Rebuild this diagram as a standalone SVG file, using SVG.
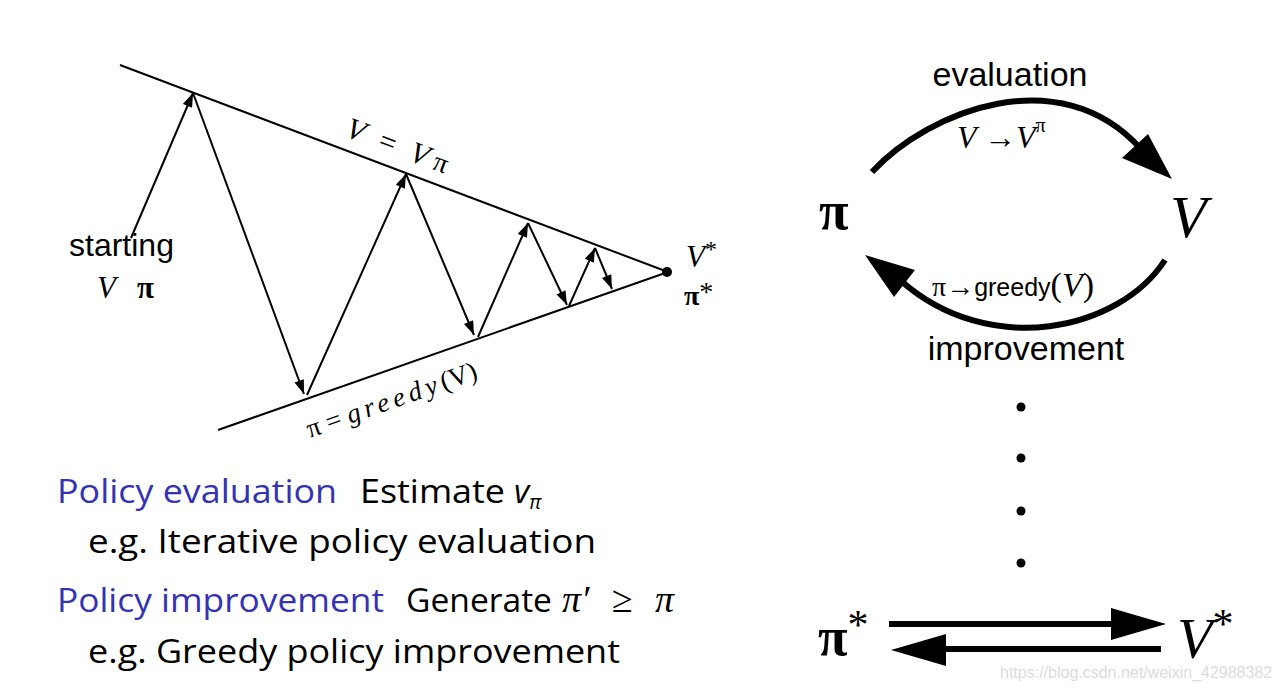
<svg xmlns="http://www.w3.org/2000/svg" width="1280" height="690" viewBox="0 0 1280 690">
<defs>
<style>
.ln{stroke:#000;stroke-width:2;fill:none}
.ar{stroke:#000;stroke-width:2;fill:none;marker-end:url(#ah)}
.thick{stroke:#000;stroke-width:6;fill:none}
.sans{font-family:"Liberation Sans",Arial,sans-serif;fill:#000}
.serif{font-family:"Liberation Serif","Times New Roman",serif;fill:#000}
.it{font-style:italic}
.blue{fill:#3333b3}
.blk{fill:#000}
</style>
<marker id="ah" viewBox="0 0 14 10" refX="14" refY="5" markerWidth="15" markerHeight="10" markerUnits="userSpaceOnUse" orient="auto"><path d="M0,0 L14,5 L0,10 Z"/></marker>
</defs>
<rect width="1280" height="690" fill="#fff"/>

<g id="triangle">
<line class="ln" x1="120" y1="65" x2="668" y2="272"/>
<line class="ln" x1="218" y1="430" x2="668" y2="272"/>
<circle cx="667" cy="272" r="5" fill="#000"/>
</g>

<g id="zigzag-connectors">
<path class="ar" d="M131,238 L193,93"/>
<path class="ar" d="M193,93 L304,394"/>
<path class="ar" d="M307,395 L406,174"/>
<path class="ar" d="M406,174 L474,335"/>
<path class="ar" d="M478,337 L528,223"/>
<path class="ar" d="M528,223 L567,305"/>
<path class="ar" d="M569,306 L595,248"/>
<path class="ar" d="M595,248 L612,289"/>
</g>

<g id="labels-left-diagram">
<text class="serif it" font-size="30" transform="translate(344,136) rotate(20.6)" xml:space="preserve">V  =  V <tspan font-style="normal" font-size="28">π</tspan></text>
<text class="serif" font-size="27" transform="translate(310,438) rotate(-19.5)" xml:space="preserve">π = <tspan font-style="italic" letter-spacing="4.5">greedy</tspan>(V)</text>
<text class="sans" x="69" y="256" font-size="32">starting</text>
<text class="serif it" x="97" y="298" font-size="31">V</text>
<text class="serif" x="137" y="298" font-size="31" font-weight="bold">π</text>
<text class="serif it" x="686" y="267" font-size="31">V<tspan font-style="normal" font-size="24" dy="-10">*</tspan></text>
<text class="serif" x="684" y="305" font-size="28" font-weight="bold">π<tspan font-weight="normal" dy="-4">*</tspan></text>
</g>

<g id="node-pi">
<text class="serif" x="819" y="229" font-size="54" font-weight="bold">π</text>
</g>
<g id="node-V">
<text class="serif it" x="1170" y="237" font-size="60">V</text>
</g>

<g id="cycle-connectors">
<path class="thick" d="M872,172 C930,110 1060,60 1140,148"/>
<path d="M1172,179 L1122,158 L1148,134 Z" fill="#000"/>
<path class="thick" d="M1165,260 C1120,330 990,360 900,280"/>
<path d="M865,255 L915,270 L894,297 Z" fill="#000"/>
</g>

<g id="cycle-labels">
<text class="sans" x="1010" y="86" font-size="34" text-anchor="middle">evaluation</text>
<text class="serif it" x="957" y="148" font-size="32" xml:space="preserve">V <tspan font-style="normal">→</tspan>V<tspan font-style="normal" font-size="20" dy="-16">π</tspan></text>
<text class="serif" x="932" y="296" font-size="28">π→<tspan class="sans" font-size="25">greedy</tspan><tspan font-size="34">(</tspan><tspan font-style="italic" font-size="34">V</tspan><tspan font-size="34">)</tspan></text>
<text class="sans" x="1026" y="360" font-size="34" text-anchor="middle">improvement</text>
</g>

<g id="dots">
<circle cx="1021" cy="407" r="4.5" fill="#000"/>
<circle cx="1021" cy="458" r="4.5" fill="#000"/>
<circle cx="1021" cy="511" r="4.5" fill="#000"/>
<circle cx="1021" cy="563" r="4.5" fill="#000"/>
</g>

<g id="node-pistar">
<text class="serif" x="818" y="655" font-size="54" font-weight="bold">π<tspan font-weight="normal" font-size="42" dy="-16">*</tspan></text>
</g>
<g id="node-Vstar">
<text class="serif it" x="1177" y="658" font-size="58">V<tspan font-style="normal" font-size="42" dy="-20">*</tspan></text>
</g>

<g id="optimal-connectors">
<line class="thick" x1="889" y1="624" x2="1120" y2="624"/>
<path d="M1166,624 L1111,608 L1111,640 Z" fill="#000"/>
<line class="thick" x1="1161" y1="649" x2="935" y2="649"/>
<path d="M891,650 L946,634 L946,666 Z" fill="#000"/>
</g>

<text x="1000" y="678" font-family="Liberation Sans,Arial,sans-serif" font-size="16" fill="#dcdcdc">https://blog.csdn.net/weixin_42988382</text>

<g id="bottom-text" font-family="'Open Sans','DejaVu Sans',sans-serif" font-size="33">
<text x="57" y="503" textLength="280" lengthAdjust="spacingAndGlyphs" class="blue">Policy evaluation</text>
<text x="360" y="503" textLength="145" lengthAdjust="spacingAndGlyphs" class="blk">Estimate</text>
<text x="514" y="503" class="blk" font-style="italic">v<tspan font-size="20" dy="6">π</tspan></text>
<text x="88" y="553" textLength="508" lengthAdjust="spacingAndGlyphs" class="blk">e.g.  Iterative policy evaluation</text>
<text x="57" y="612" textLength="327" lengthAdjust="spacingAndGlyphs" class="blue">Policy improvement</text>
<text x="406" y="612" textLength="146" lengthAdjust="spacingAndGlyphs" class="blk">Generate</text>
<text x="562" y="612" class="serif it" font-size="38">π′</text>
<text x="612" y="612" class="serif" font-size="38">≥</text>
<text x="655" y="612" class="serif it" font-size="38">π</text>
<text x="88" y="663" textLength="532" lengthAdjust="spacingAndGlyphs" class="blk">e.g.  Greedy policy improvement</text>
</g>
</svg>
